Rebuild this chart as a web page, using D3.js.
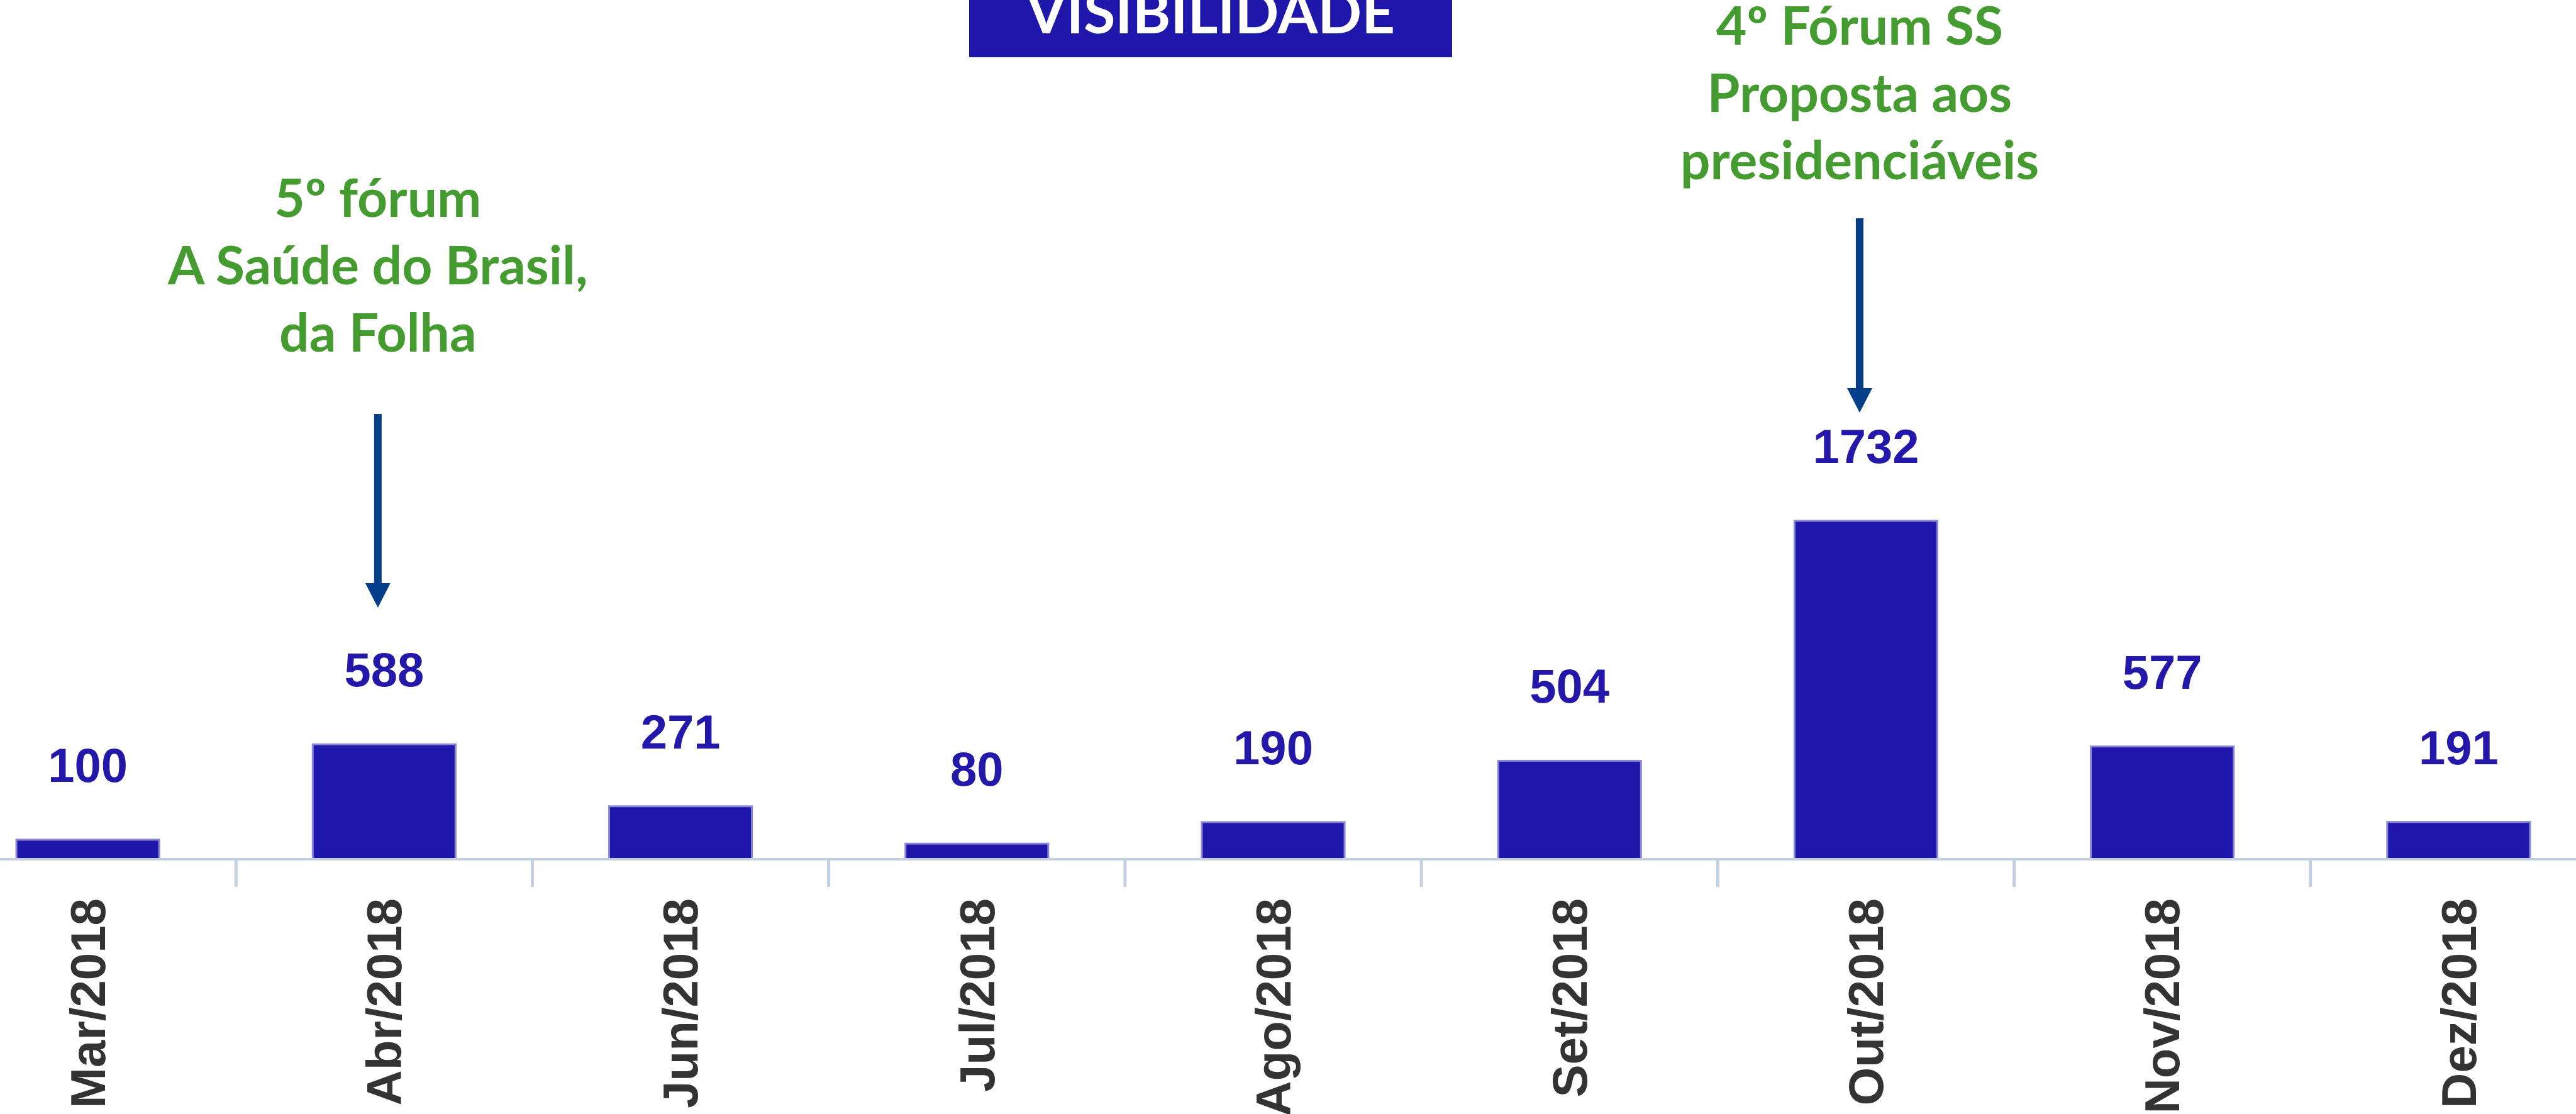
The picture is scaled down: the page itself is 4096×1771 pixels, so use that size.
<!DOCTYPE html>
<html>
<head>
<meta charset="utf-8">
<script src="https://cdn.jsdelivr.net/npm/d3@7"></script>
<style>
	body { margin: 0; background: white; }
	svg { display: block; }
</style>
</head>
<body>
<div class="canvas"></div>
<script>
var WIDTH = 4096;
var HEIGHT = 1771;

// data
var months = ['Mar/2018', 'Abr/2018', 'Jun/2018', 'Jul/2018', 'Ago/2018', 'Set/2018', 'Out/2018', 'Nov/2018', 'Dez/2018'];
var values = [100, 588, 271, 80, 190, 504, 1732, 577, 191];

var title = 'VISIBILIDADE';
var note_left = ['5º fórum', 'A Saúde do Brasil,', 'da Folha'];
var note_right = ['4º Fórum SS', 'Proposta aos', 'presidenciáveis'];
var note_months = ['Abr/2018', 'Out/2018'];

var BAR_COL = '#1f17ab';
var GREEN = '#449b2f';
var ARROW_COL = '#033f88';
var AXIS_COL = '#c3d0e0';

var base_y = 1366;

var svg = d3.select('div.canvas').append('svg')
	.attr('width', WIDTH)
	.attr('height', HEIGHT);

var x = d3.scaleBand()
	.domain(months)
	.range([-96, 4145])
	.paddingInner(0.518)
	.paddingOuter(0.259);

var y = d3.scaleLinear()
	.domain([0, 1732])
	.range([base_y, 828]);

function center(m) {
	return x(m) + x.bandwidth() / 2;
}

// title box, cut off at the top
svg.append('rect')
	.attr('x', 1541).attr('y', 0)
	.attr('width', 768).attr('height', 91)
	.attr('fill', BAR_COL);
svg.append('text')
	.attr('x', 1925).attr('y', 53)
	.attr('text-anchor', 'middle')
	.attr('fill', 'white')
	.style('font-family', 'Lato')
	.style('font-weight', 'bold')
	.style('font-size', '92px')
	.text(title);

// bars
svg.selectAll('rect.bar')
	.data(values)
	.enter().append('rect')
	.attr('class', 'bar')
	.attr('x', function(d, i) { return x(months[i]); })
	.attr('y', function(d) { return y(d); })
	.attr('width', x.bandwidth())
	.attr('height', function(d) { return base_y - y(d); })
	.attr('fill', BAR_COL)
	.attr('stroke', '#8c86d6')
	.attr('stroke-width', 3);

// value labels
svg.selectAll('text.val')
	.data(values)
	.enter().append('text')
	.attr('class', 'val')
	.attr('x', function(d, i) { return center(months[i]); })
	.attr('y', function(d) { return y(d) - 92; })
	.attr('text-anchor', 'middle')
	.attr('fill', '#2318aa')
	.style('font-family', 'Liberation Sans, Arial')
	.style('font-weight', 'bold')
	.style('font-size', '76px')
	.text(function(d) { return d; });

// axis
var axis = d3.axisBottom(x).tickSize(0).tickFormat('');
var g_axis = svg.append('g')
	.attr('transform', 'translate(0,' + base_y + ')')
	.call(axis);
g_axis.select('.domain').remove();
g_axis.append('line')
	.attr('x1', 0).attr('x2', WIDTH)
	.attr('stroke', AXIS_COL)
	.attr('stroke-width', 4);

// ticks between categories
var step = x.step();
g_axis.selectAll('line.sep')
	.data(months.slice(1))
	.enter().append('line')
	.attr('class', 'sep')
	.attr('x1', function(m) { return center(m) - step / 2; })
	.attr('x2', function(m) { return center(m) - step / 2; })
	.attr('y1', 0).attr('y2', 44)
	.attr('stroke', AXIS_COL)
	.attr('stroke-width', 5);

// rotated month labels
g_axis.selectAll('text.lbl')
	.data(months)
	.enter().append('text')
	.attr('class', 'lbl')
	.attr('transform', function(m) { return 'translate(' + center(m) + ',' + 62 + ') rotate(-90)'; })
	.attr('dy', '0.35em')
	.attr('text-anchor', 'end')
	.attr('fill', '#333333')
	.style('font-family', 'Liberation Sans, Arial')
	.style('font-weight', 'bold')
	.style('font-size', '78px')
	.text(function(m) { return m; });

// annotations with arrows
function draw_note(lines, m, first_base, arrow_top, arrow_tip) {
	var cx = center(m) - 10;
	var t = svg.append('text')
		.attr('text-anchor', 'middle')
		.attr('fill', GREEN)
		.style('font-family', 'Lato')
		.style('font-weight', 'bold')
		.style('font-size', '84px');
	for (var i = 0; i < lines.length; ++i) {
		t.append('tspan')
			.attr('x', cx)
			.attr('y', first_base + i * 107)
			.text(lines[i]);
	}
	var head = 39;
	svg.append('line')
		.attr('x1', cx).attr('x2', cx)
		.attr('y1', arrow_top).attr('y2', arrow_tip - head + 2)
		.attr('stroke', ARROW_COL)
		.attr('stroke-width', 12);
	svg.append('path')
		.attr('d', 'M' + (cx - 20) + ',' + (arrow_tip - head) + 'L' + (cx + 20) + ',' + (arrow_tip - head) + 'L' + cx + ',' + arrow_tip + 'Z')
		.attr('fill', ARROW_COL);
}

draw_note(note_left, note_months[0], 345, 658, 966);
draw_note(note_right, note_months[1], 71, 347, 656);
</script>
</body>
</html>
